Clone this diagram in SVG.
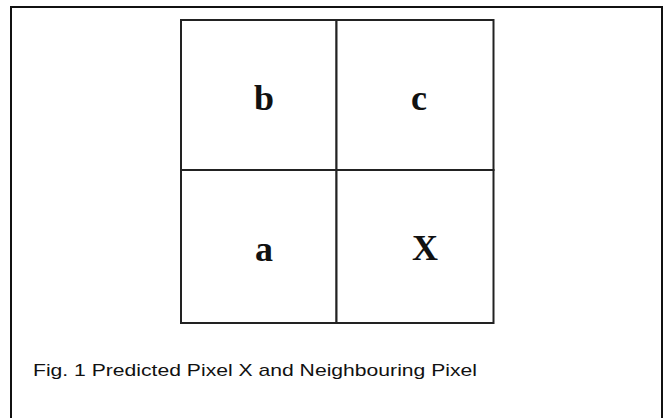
<svg xmlns="http://www.w3.org/2000/svg" width="664" height="418" viewBox="0 0 664 418">
<style>
.frame{fill:none;stroke:#111;stroke-width:2}
.cell{fill:#fff;stroke:#222;stroke-width:2}
.lbl{font-family:"Liberation Serif","Times New Roman",serif;font-weight:bold;font-size:36px;fill:#111;text-anchor:middle}
.cap{font-family:"Liberation Sans",Arial,sans-serif;font-size:17px;fill:#111}
</style>
<rect width="664" height="418" fill="#fff"/>
<path class="frame" d="M11,418 V7 H662 V418"/>
<g id="cell-b"><rect class="cell" x="181" y="20" width="155.5" height="150"/><text class="lbl" x="264" y="110">b</text></g>
<g id="cell-c"><rect class="cell" x="336.5" y="20" width="157" height="150"/><text class="lbl" x="419" y="110">c</text></g>
<g id="cell-a"><rect class="cell" x="181" y="170" width="155.5" height="153"/><text class="lbl" x="264" y="261">a</text></g>
<g id="cell-X"><rect class="cell" x="336.5" y="170" width="157" height="153"/><text class="lbl" x="425" y="260">X</text></g>
<g id="connectors"/>
<text class="cap" x="33" y="376" textLength="444" lengthAdjust="spacingAndGlyphs">Fig. 1 Predicted Pixel X and Neighbouring Pixel</text>
</svg>
